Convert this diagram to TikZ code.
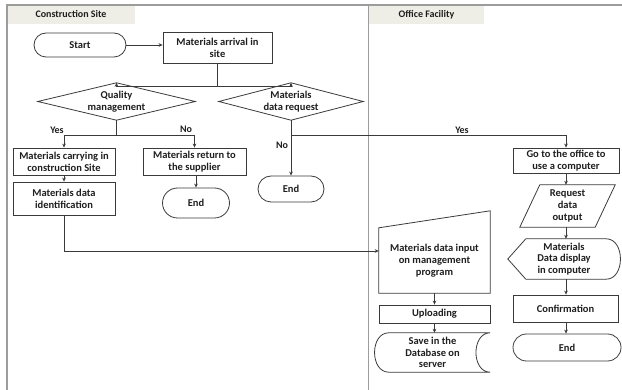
\documentclass[tikz,border=0pt]{standalone}
\usepackage{fontspec}
\setmainfont{Carlito}
\usetikzlibrary{arrows.meta,calc}
\definecolor{ink}{HTML}{3A3A3A}
\definecolor{txt}{HTML}{1E1E1E}
\definecolor{frame}{HTML}{9C9C9C}
\definecolor{headfill}{HTML}{EEEEE7}
\begin{document}
\begin{tikzpicture}[x=1pt,y=-1pt,
  every node/.style={text=txt,font=\fontsize{10.5}{11.8}\selectfont\bfseries,align=center,inner sep=0pt},
  box/.style={draw=ink,line width=0.8pt,rectangle},
  term/.style={box,rounded corners=#1},
  ghost/.style={rectangle},
  outline/.style={draw=ink,line width=0.8pt,line join=miter},
  arr/.style={draw=ink,line width=0.8pt,-{Stealth[length=4pt,width=3.6pt]}},
  link/.style={draw=ink,line width=0.8pt},
  lbl/.style={font=\fontsize{10}{11}\selectfont\bfseries},
  head/.style={fill=headfill,font=\fontsize{10}{11}\selectfont\bfseries}
]
\useasboundingbox (0,0) rectangle (622,390);

% lanes
\node[head,minimum width=128,minimum height=19] (lane1) at (71,14.5) {Construction Site};
\node[head,minimum width=115,minimum height=19] (lane2) at (426.5,14.5) {Office Facility};
\draw[frame,line width=1.3pt] (7,390) -- (7,5) -- (622,5);
\draw[frame,line width=1pt] (368.5,5) -- (368.5,390);

% construction site
\node[term=12pt,minimum width=92,minimum height=24] (start) at (80,45) {Start};
\node[box,minimum width=109,minimum height=31] (arrival) at (217.5,47.5) {Materials arrival in\\site};
\node[ghost,minimum width=157,minimum height=37] (qm) at (116.5,101.5) {Quality\\management};
\draw[outline] (qm.north) -- (qm.east) -- (qm.south) -- (qm.west) -- cycle;
\node[ghost,minimum width=144,minimum height=37] (dr) at (291,101.5) {Materials\\data request};
\draw[outline] (dr.north) -- (dr.east) -- (dr.south) -- (dr.west) -- cycle;
\node[box,minimum width=102,minimum height=27] (carry) at (64,161.5) {Materials carrying in\\construction Site};
\node[box,minimum width=103,minimum height=27] (ret) at (194.5,161.5) {Materials return to\\the supplier};
\node[box,minimum width=102,minimum height=33] (ident) at (64,198.5) {Materials data\\identification};
\node[term=15pt,minimum width=67,minimum height=30] (end1) at (196,203) {End};
\node[term=13pt,minimum width=66,minimum height=26] (end2) at (291,189) {End};

% office facility: data entry column
\node[ghost,minimum width=111,minimum height=64] (mi) at (434.5,261) {Materials data input\\on management\\program};
\draw[outline] (mi.south west) -- ($(mi.north west)+(0,-1)$) -- ($(mi.north east)+(0,-18)$) -- (mi.south east) -- cycle;
\coordinate (miin) at ($(mi.west)+(0,-10)$);
\node[box,minimum width=111,minimum height=18] (upl) at (434.5,314) {Uploading};
\node[ghost,minimum width=115,minimum height=39] (db) at (432.5,352.5) {Save in the\\Database on\\server};
\draw[outline] ($(db.north west)+(14,0)$) -- (db.north east)
  .. controls ($(db.north east)+(-19,0)$) and ($(db.south east)+(-19,0)$) .. (db.south east)
  -- ($(db.south west)+(14,0)$)
  .. controls ($(db.south west)+(-5,0)$) and ($(db.north west)+(-5,0)$) .. ($(db.north west)+(14,0)$) -- cycle;

% office facility: data output column
\node[box,minimum width=106,minimum height=25] (office) at (566,160.5) {Go to the office to\\use a computer};
\node[ghost,minimum width=95,minimum height=42] (ro) at (567.5,206) {Request\\data\\output};
\draw[outline] ($(ro.north west)+(20,0)$) -- (ro.north east) -- ($(ro.south east)+(-20,0)$) -- (ro.south west) -- cycle;
\node[ghost,minimum width=112,minimum height=40] (disp) at (564,259) {Materials\\Data display\\in computer};
\draw[outline] (disp.west) -- ($(disp.north west)+(18,0)$) -- ($(disp.north east)+(-14,0)$)
  .. controls ($(disp.north east)+(5,0)$) and ($(disp.south east)+(5,0)$) .. ($(disp.south east)+(-14,0)$)
  -- ($(disp.south west)+(18,0)$) -- cycle;
\node[box,minimum width=105,minimum height=27] (conf) at (565.5,308.5) {Confirmation};
\node[term=13.5pt,minimum width=108,minimum height=27] (end3) at (567,347.5) {End};

% connectors
\draw[arr] (start.east) -- (start.east -| arrival.west);
\draw[link] (arrival.south) -- ++(0,23.5) coordinate (split1);
\draw[arr] (split1) -| (qm.north);
\draw[arr] (split1) -| (dr.north);

\draw[link] (qm.south) -- ++(0,15) coordinate (split2);
\draw[arr] (split2) -| (carry.north);
\draw[arr] (split2) -| (ret.north);
\node[lbl] (yes1) at (57,130) {Yes};
\node[lbl] (no1) at (186,129) {No};

\draw[arr] (carry.south) -- (ident.north);
\draw[arr] (end1.north |- ret.south) -- (end1.north);
\draw[arr] (ident.south) |- (miin);

\draw[arr] (dr.south) -- (end2.north);
\coordinate (split3) at ($(dr.south)+(0,15)$);
\draw[arr] (split3) -| (office.north);
\node[lbl] (no2) at (282,145) {No};
\node[lbl] (yes2) at (462,130) {Yes};

\draw[arr] (mi.south) -- (upl.north);
\draw[arr] (upl.south) -- (upl.south |- db.north);

\draw[arr] (office.south) -- (office.south |- ro.north);
\draw[arr] (office.south |- ro.south) -- (office.south |- disp.north);
\draw[arr] (office.south |- disp.south) -- (office.south |- conf.north);
\draw[arr] (office.south |- conf.south) -- (office.south |- end3.north);
\end{tikzpicture}
\end{document}
